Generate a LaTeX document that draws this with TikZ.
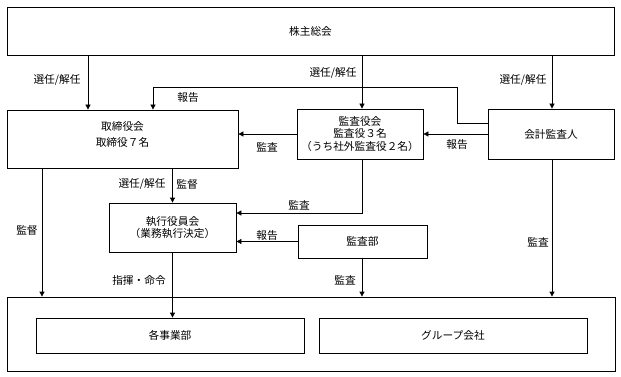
\documentclass[tikz,border=0pt]{standalone}
\usepackage{fontspec}
\newfontfamily\jp{Noto Sans CJK JP}
\usetikzlibrary{arrows.meta}
\begin{document}
\begin{tikzpicture}[x=1pt,y=-1pt,
  box/.style={draw,line width=0.8pt,inner sep=0pt,align=center,font=\jp\fontsize{10.7}{12.3}\selectfont},
  txt/.style={inner sep=0pt,align=center,font=\jp\fontsize{10.7}{16}\selectfont},
  lbl/.style={inner sep=1pt,font=\jp\fontsize{10.7}{13}\selectfont},
  arr/.style={line width=0.8pt,-{Triangle[length=5pt,width=5pt]}}]
\useasboundingbox (0,0) rectangle (621,377);
\fill[white] (0,0) rectangle (621,377);
% boxes
\node[box,minimum width=607pt,minimum height=48pt] (top) at (310.5,31) {株主総会};
\node[box,minimum width=231pt,minimum height=58pt] (tor) at (122.5,139) {};
\node[txt] (torT) at (122.5,134) {取締役会\\取締役７名};
\node[box,minimum width=126pt,minimum height=50pt] (kan) at (360,134) {監査役会\\監査役３名\\（うち社外監査役２名）};
\node[box,minimum width=126pt,minimum height=50pt] (kai) at (551,134) {会計監査人};
\node[box,minimum width=127pt,minimum height=49pt] (shik) at (172.5,227.5) {執行役員会\\（業務執行決定）};
\node[box,minimum width=129pt,minimum height=33pt] (kbu) at (362.5,241.5) {監査部};
\node[box,minimum width=608pt,minimum height=74pt] (bot) at (311,334) {};
\node[box,minimum width=268pt,minimum height=35pt] (jig) at (170,335.5) {各事業部};
\node[box,minimum width=268pt,minimum height=35pt] (grp) at (453,335.5) {グループ会社};
% helper coordinates
\coordinate (xA) at (88,0);
\coordinate (xB) at (362,0);
\coordinate (xC) at (552,0);
\coordinate (xD) at (153,0);
\coordinate (xE) at (457,0);
\coordinate (xG) at (42,0);
\coordinate (yA) at (0,123);
\coordinate (yB) at (0,87);
\coordinate (yC) at (0,134);
\coordinate (yD) at (0,213);
% connectors
\draw[arr] (top.south -| xA) -- (tor.north -| xA);
\draw[arr] (top.south -| xB) -- (kan.north -| xB);
\draw[arr] (top.south -| xC) -- (kai.north -| xC);
\draw[arr] (kai.west |- yA) -| (xE |- yB) -| (tor.north -| xD);
\draw[arr] (kan.west |- yC) -- (tor.east |- yC);
\draw[arr] (kai.west) -- (kan.east);
\draw[arr] (tor.south -| shik) -- (shik.north);
\draw[arr] (kan.south -| xB) |- (shik.east |- yD);
\draw[arr] (kbu.west) -- (shik.east |- kbu.west);
\draw[arr] (tor.south -| xG) -- (bot.north -| xG);
\draw[arr] (kai.south -| xC) -- (bot.north -| xC);
\draw[arr] (kbu.south -| xB) -- (bot.north -| xB);
\draw[arr] (shik.south) -- (jig.north -| shik.south);
% labels
\node[lbl] (l1) at (57,80) {選任/解任};
\node[lbl] (l2) at (333,73) {選任/解任};
\node[lbl] (l3) at (523,80) {選任/解任};
\node[lbl] (l4) at (188,97) {報告};
\node[lbl] (l5) at (267,147) {監査};
\node[lbl] (l6) at (457,144) {報告};
\node[lbl] (l7) at (142,184) {選任/解任};
\node[lbl] (l8) at (187,184) {監督};
\node[lbl] (l9) at (299,205) {監査};
\node[lbl] (l10) at (267,235) {報告};
\node[lbl] (l11) at (27,230) {監督};
\node[lbl] (l12) at (538,242) {監査};
\node[lbl] (l13) at (345,280) {監査};
\node[lbl] (l14) at (139,280) {指揮・命令};
\end{tikzpicture}
\end{document}
